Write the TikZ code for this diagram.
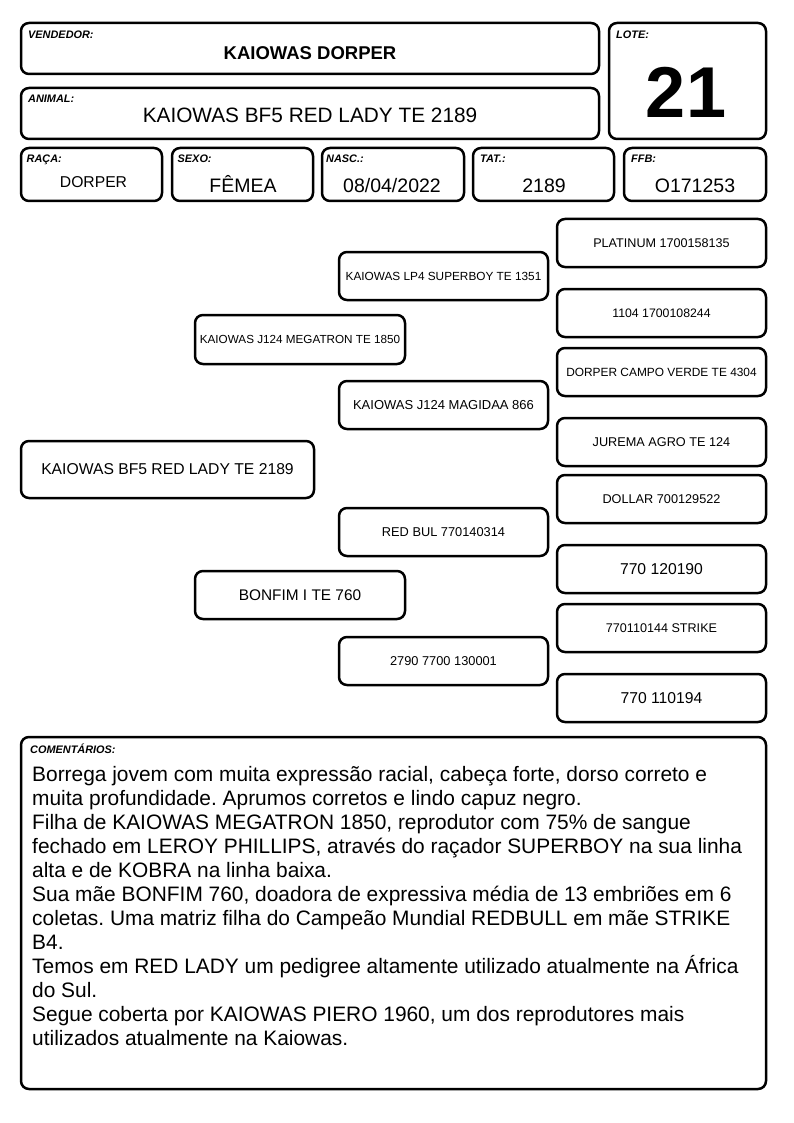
\documentclass[tikz,border=0pt]{standalone}
\usepackage{fontspec}
\setmainfont{Liberation Sans}
\frenchspacing
\newcommand{\fs}[1]{\fontsize{#1}{#1}\selectfont}
\begin{document}
\begin{tikzpicture}[x=1pt,y=-1pt,
  frame/.style={draw=black, line width=2.5pt, rounded corners=8pt, inner sep=0pt, fill=white},
  pbox/.style={frame, minimum width=209pt, minimum height=48pt, align=center},
  lab/.style={anchor=base west, inner sep=0pt, font=\fs{10.9}\bfseries\itshape},
  val/.style={anchor=base, inner sep=0pt}]
\useasboundingbox[fill=white] (0,0) rectangle (794,1123);

% header
\node[frame, minimum width=578pt, minimum height=51pt] (vend) at (310,48.5) {};
\node[lab] (vendl) at (28,39) {VENDEDOR:};
\node[val, font=\fs{18.5}\bfseries] (vendv) at (310,60) {KAIOWAS DORPER};

\node[frame, minimum width=157pt, minimum height=116pt] (lote) at (687.5,81) {};
\node[lab] (lotel) at (616,39) {LOTE:};
\node[val, font=\fs{72}\bfseries] (lotev) at (686,118) {21};

\node[frame, minimum width=578pt, minimum height=51pt] (anim) at (310,113.5) {};
\node[lab] (animl) at (28,103) {ANIMAL:};
\node[val, font=\fs{20.8}] (animv) at (310,123) {KAIOWAS BF5 RED LADY TE 2189};

\node[frame, minimum width=141pt, minimum height=53pt] (raca) at (91.5,174.5) {};
\node[lab] (racal) at (26.5,163) {RAÇA:};
\node[val, font=\fs{15.7}] (racav) at (93.5,188) {DORPER};

\node[frame, minimum width=141pt, minimum height=53pt] (sexo) at (242.5,174.5) {};
\node[lab] (sexol) at (177.5,163) {SEXO:};
\node[val, font=\fs{19.5}] (sexov) at (243,193) {FÊMEA};

\node[frame, minimum width=142pt, minimum height=53pt] (nasc) at (393,174.5) {};
\node[lab] (nascl) at (326,163) {NASC.:};
\node[val, font=\fs{19.5}] (nascv) at (392,193) {08/04/2022};

\node[frame, minimum width=141pt, minimum height=53pt] (tat) at (543.5,174.5) {};
\node[lab] (tatl) at (480,163) {TAT.:};
\node[val, font=\fs{19.5}] (tatv) at (544,193) {2189};

\node[frame, minimum width=142pt, minimum height=53pt] (ffb) at (695,174.5) {};
\node[lab] (ffbl) at (631,163) {FFB:};
\node[val, font=\fs{19.5}] (ffbv) at (695,193) {O171253};

% pedigree
\node[frame, minimum width=293pt, minimum height=57pt, font=\fs{15.7}] (animal) at (167.5,469.5) {KAIOWAS BF5 RED LADY TE 2189};

\node[pbox, minimum width=210pt, minimum height=49pt, font=\fs{11.7}] (pai) at (300,339.5) {KAIOWAS J124 MEGATRON TE 1850};
\node[pbox, minimum width=210pt, font=\fs{15.4}] (mae) at (300,595) {BONFIM I TE 760};

\node[pbox, font=\fs{11.8}] (avp) at (443.5,276) {KAIOWAS LP4 SUPERBOY TE 1351};
\node[pbox, font=\fs{13}] (avmp) at (443.5,405) {KAIOWAS J124 MAGIDAA 866};
\node[pbox, font=\fs{12.8}] (avpm) at (443.5,532) {RED BUL 770140314};
\node[pbox, font=\fs{12.8}] (avmm) at (443.5,661) {2790 7700 130001};

\node[pbox, font=\fs{12.6}] (b1) at (661.5,243) {PLATINUM 1700158135};
\node[pbox, font=\fs{12.3}] (b2) at (661.5,313) {1104 1700108244};
\node[pbox, font=\fs{11.9}] (b3) at (661.5,372) {DORPER CAMPO VERDE TE 4304};
\node[pbox, font=\fs{12.7}] (b4) at (661.5,442) {JUREMA AGRO TE 124};
\node[pbox, font=\fs{12.7}] (b5) at (661.5,499) {DOLLAR 700129522};
\node[pbox, font=\fs{15.7}] (b6) at (661.5,569) {770 120190};
\node[pbox, font=\fs{12.6}] (b7) at (661.5,628) {770110144 STRIKE};
\node[pbox, font=\fs{15.7}] (b8) at (661.5,698) {770 110194};

% comments
\node[frame, minimum width=745pt, minimum height=352pt] (com) at (393.5,913) {};
\node[lab] (coml) at (30,753) {COMENTÁRIOS:};
\node[anchor=north west, inner sep=0pt, align=left, font={\fontsize{20.9}{24}\selectfont}] (comv) at (32,766.5) {Borrega jovem com muita expressão racial, cabeça forte, dorso correto e\\
muita profundidade. Aprumos corretos e lindo capuz negro.\\
Filha de KAIOWAS MEGATRON 1850, reprodutor com 75\% de sangue\\
fechado em LEROY PHILLIPS, através do raçador SUPERBOY na sua linha\\
alta e de KOBRA na linha baixa.\\
Sua mãe BONFIM 760, doadora de expressiva média de 13 embriões em 6\\
coletas. Uma matriz filha do Campeão Mundial REDBULL em mãe STRIKE\\
B4.\\
Temos em RED LADY um pedigree altamente utilizado atualmente na África\\
do Sul.\\
Segue coberta por KAIOWAS PIERO 1960, um dos reprodutores mais\\
utilizados atualmente na Kaiowas.};
\end{tikzpicture}
\end{document}
